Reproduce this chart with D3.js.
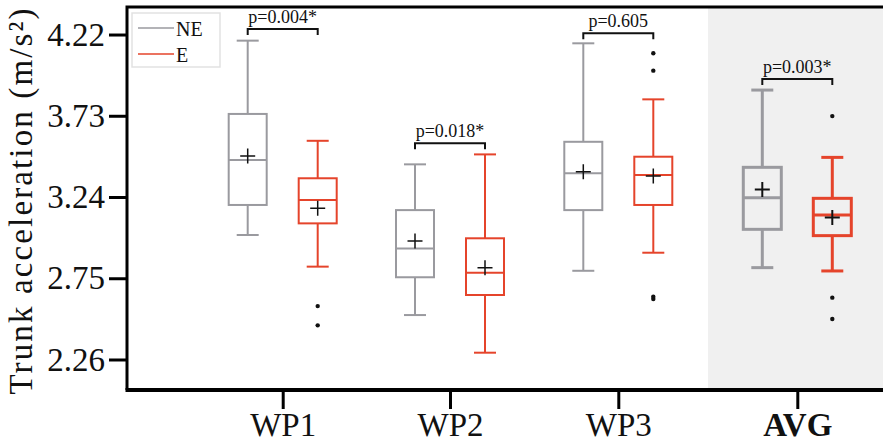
<!DOCTYPE html>
<html>
<head>
<meta charset="utf-8">
<script src="https://cdn.jsdelivr.net/npm/d3@7"></script>
<style>
  body { margin: 0; background: #fff; }
  svg { display: block; font-family: "Liberation Serif", serif; }
</style>
</head>
<body>
<svg id="chart"></svg>
<script>
const width = 883;
const height = 443;

// groups and series
const groups = ["WP1", "WP2", "WP3", "AVG"];
const series = ["NE", "E"];

// NE box stats (per group)
const neMin  = [3.011, 2.528, 2.795, 2.814];
const neQ1   = [3.192, 2.756, 3.161, 3.045];
const neMed  = [3.463, 2.930, 3.383, 3.236];
const neQ3   = [3.741, 3.161, 3.573, 3.419];
const neMax  = [4.183, 3.437, 4.167, 3.885];
const neMean = [3.487, 2.975, 3.393, 3.286];
const neOut  = [[], [], [], []];

// E box stats (per group)
const eMin  = [2.820, 2.301, 2.904, 2.794];
const eQ1   = [3.081, 2.649, 3.192, 3.007];
const eMed  = [3.222, 2.783, 3.373, 3.131];
const eQ3   = [3.353, 2.991, 3.483, 3.232];
const eMax  = [3.579, 3.497, 3.829, 3.479];
const eMean = [3.172, 2.814, 3.366, 3.117];
const eOut  = [[2.582, 2.466], [], [4.107, 4.002, 2.639, 2.625], [3.728, 2.633, 2.504]];

// p-value brackets
const pLabels = ["p=0.004*", "p=0.018*", "p=0.605", "p=0.003*"];
const pLevels = [4.253, 3.564, 4.227, 3.952];

const yTicks = [2.26, 2.75, 3.24, 3.73, 4.22];

const colors = { NE: "#9a9a9f", E: "#e5442b" };

const plotLeft = 127, plotTop = 7, plotBottom = 390;

const svg = d3.select("#chart")
  .attr("width", width)
  .attr("height", height);

const y = d3.scaleLinear()
  .domain([2.076, 4.386])
  .range([plotBottom, plotTop]);

const x = d3.scaleOrdinal()
  .domain(groups)
  .range([282.7, 450, 618.3, 797.3]);

const offset = d3.scalePoint()
  .domain(series)
  .range([-35, 35]);

// shaded AVG region
svg.append("rect")
  .attr("x", 708)
  .attr("y", plotTop)
  .attr("width", width - 708)
  .attr("height", plotBottom - plotTop)
  .attr("fill", "#f0f0f0");

// build box rows
const boxes = [];
groups.forEach((g, i) => {
  boxes.push({ g, s: "NE", min: neMin[i], q1: neQ1[i], med: neMed[i], q3: neQ3[i], max: neMax[i], mean: neMean[i], out: neOut[i] });
  boxes.push({ g, s: "E", min: eMin[i], q1: eQ1[i], med: eMed[i], q3: eQ3[i], max: eMax[i], mean: eMean[i], out: eOut[i] });
});

const boxW = 38, capW = 22;

const bx = svg.selectAll("g.box")
  .data(boxes).enter().append("g")
  .attr("class", "box")
  .attr("transform", d => `translate(${x(d.g) + offset(d.s)},0)`)
  .attr("stroke", d => colors[d.s])
  .attr("stroke-width", d => d.g === "AVG" ? 3 : 2)
  .attr("fill", "none");

bx.append("line")
  .attr("y1", d => y(d.max)).attr("y2", d => y(d.q3));
bx.append("line")
  .attr("y1", d => y(d.q1)).attr("y2", d => y(d.min));
bx.append("line")
  .attr("x1", -capW / 2).attr("x2", capW / 2)
  .attr("y1", d => y(d.max)).attr("y2", d => y(d.max));
bx.append("line")
  .attr("x1", -capW / 2).attr("x2", capW / 2)
  .attr("y1", d => y(d.min)).attr("y2", d => y(d.min));
bx.append("rect")
  .attr("x", -boxW / 2).attr("width", boxW)
  .attr("y", d => y(d.q3))
  .attr("height", d => y(d.q1) - y(d.q3));
bx.append("line")
  .attr("x1", -boxW / 2).attr("x2", boxW / 2)
  .attr("y1", d => y(d.med)).attr("y2", d => y(d.med));

// mean markers
bx.append("path")
  .attr("d", d => `M-7.5,${y(d.mean)}H7.5M0,${y(d.mean) - 7.5}V${y(d.mean) + 7.5}`)
  .attr("stroke", "#111")
  .attr("stroke-width", d => d.g === "AVG" ? 2 : 1.5);

// outliers
bx.selectAll("circle")
  .data(d => d.out).enter().append("circle")
  .attr("cx", 0)
  .attr("cy", d => y(d))
  .attr("r", 2.2)
  .attr("fill", "#111")
  .attr("stroke", "none");

// p-value brackets
const br = svg.selectAll("g.bracket")
  .data(groups).enter().append("g")
  .attr("class", "bracket");

br.append("path")
  .attr("d", (g, i) => {
    const x0 = x(g) + offset("NE"), x1 = x(g) + offset("E"), yy = y(pLevels[i]);
    return `M${x0},${yy + 6}V${yy}H${x1}V${yy + 6}`;
  })
  .attr("fill", "none")
  .attr("stroke", "#111")
  .attr("stroke-width", 2);

br.append("text")
  .attr("x", g => x(g))
  .attr("y", (g, i) => y(pLevels[i]) - 6)
  .attr("text-anchor", "middle")
  .attr("font-size", 18)
  .attr("fill", "#111")
  .text((g, i) => pLabels[i]);

// y axis
const yAxis = svg.append("g")
  .attr("transform", `translate(${plotLeft},0)`)
  .call(d3.axisLeft(y).tickValues(yTicks).tickFormat(d3.format(".2f")).tickSize(18).tickSizeOuter(0).tickPadding(4));
yAxis.select(".domain").remove();
yAxis.selectAll(".tick line").attr("stroke", "#000").attr("stroke-width", 3);
yAxis.selectAll(".tick text")
  .attr("font-family", "Liberation Serif")
  .attr("font-size", 33)
  .attr("fill", "#111");

// x axis
const xAxis = svg.append("g")
  .attr("transform", `translate(0,${plotBottom})`)
  .call(d3.axisBottom(x).tickSize(19));
xAxis.select(".domain").remove();
xAxis.selectAll(".tick line").attr("stroke", "#000").attr("stroke-width", 3);
xAxis.selectAll(".tick text")
  .attr("y", 46)
  .attr("dy", null)
  .attr("font-family", "Liberation Serif")
  .attr("font-size", 33)
  .attr("font-weight", d => d === "AVG" ? "bold" : "normal")
  .attr("fill", "#111");

// frame
svg.append("path")
  .attr("d", `M${plotLeft},${plotBottom}V${plotTop}H${width}`)
  .attr("fill", "none")
  .attr("stroke", "#000")
  .attr("stroke-width", 3);
svg.append("line")
  .attr("x1", plotLeft - 1.5).attr("x2", width)
  .attr("y1", plotBottom).attr("y2", plotBottom)
  .attr("stroke", "#000")
  .attr("stroke-width", 4);

// y label
svg.append("text")
  .attr("transform", `translate(32,${(plotTop + plotBottom) / 2 + 3}) rotate(-90)`)
  .attr("text-anchor", "middle")
  .attr("font-size", 33)
  .attr("textLength", 386)
  .attr("lengthAdjust", "spacing")
  .attr("fill", "#111")
  .text("Trunk acceleration (m/s²)");

// legend
const lg = svg.append("g").attr("transform", "translate(132,13)");
lg.append("rect")
  .attr("width", 88).attr("height", 54)
  .attr("fill", "#fff")
  .attr("stroke", "#e2e2e2")
  .attr("stroke-width", 1.5);
const li = lg.selectAll("g.item")
  .data(series).enter().append("g")
  .attr("class", "item")
  .attr("transform", (d, i) => `translate(0,${15 + i * 26})`);
li.append("line")
  .attr("x1", 6).attr("x2", 42)
  .attr("stroke", d => colors[d])
  .attr("stroke-width", 1.5);
li.append("text")
  .attr("x", 44).attr("y", 8)
  .attr("font-size", 20)
  .attr("fill", "#111")
  .text(d => d);
</script>
</body>
</html>
